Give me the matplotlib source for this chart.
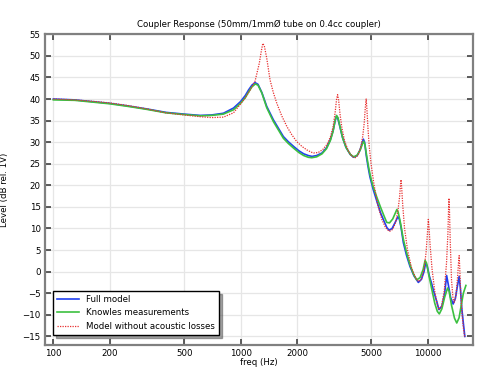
import matplotlib
matplotlib.use("Agg")
import matplotlib.pyplot as plt
from matplotlib.ticker import FixedLocator, FixedFormatter, NullLocator

# Full model (blue)
freq_full = [100, 130, 170, 200, 250, 316, 400, 500, 609, 700, 810, 917, 1000, 1060,
             1104, 1150, 1195, 1240, 1300, 1380, 1497, 1600, 1694, 1800, 1923, 2050,
             2175, 2300, 2409, 2550, 2725, 2880, 3020, 3120, 3200, 3250, 3300, 3380,
             3500, 3650, 3850, 4010, 4200, 4350, 4460, 4530, 4600, 4700, 4800, 4910,
             5100, 5350, 5600, 5830, 6050, 6220, 6450, 6700, 6920, 7050, 7200, 7410,
             7700, 8040, 8450, 8910, 9250, 9550, 9750, 9950, 10200, 10500, 10800,
             11170, 11480, 11900, 12300, 12620, 12900, 13250, 13670, 14050, 14400,
             14720, 14950, 15200, 15500, 15780]
level_full = [40.0, 39.8, 39.3, 39.0, 38.4, 37.7, 36.9, 36.5, 36.2, 36.3, 36.7, 37.9, 39.4, 40.8,
              42.1, 43.2, 43.8, 43.4, 41.5, 38.3, 35.2, 33.1, 31.3, 30.1, 29.0, 28.0,
              27.3, 26.9, 26.7, 26.9, 27.5, 28.7, 30.6, 32.6, 34.9, 36.0, 35.7, 33.9,
              31.2, 28.9, 27.2, 26.5, 26.9, 28.2, 29.8, 30.7, 30.0, 26.8, 24.3, 22.0,
              19.2, 16.3, 13.6, 11.8, 10.2, 9.6, 10.0, 11.4, 12.7, 12.2, 10.3, 6.7,
              3.8, 1.2, -1.0, -2.5, -1.8, 0.0, 2.1, 1.2, -1.0, -2.8, -4.8,
              -6.9, -8.8, -8.0, -5.2, -0.9, -3.2, -6.0, -7.5, -6.2, -3.4,
              -1.1, -4.0, -8.5, -12.0, -15.0]

# Knowles measurements (green)
freq_meas = [100, 130, 170, 200, 250, 316, 400, 500, 609, 700, 810, 917, 1000, 1060,
             1104, 1150, 1200, 1240, 1300, 1380, 1497, 1600, 1694, 1800, 1923, 2050,
             2175, 2300, 2400, 2550, 2725, 2880, 3020, 3120, 3200, 3260, 3320, 3400,
             3520, 3680, 3870, 4030, 4200, 4360, 4480, 4550, 4620, 4720, 4820, 4930,
             5100, 5350, 5600, 5830, 6040, 6250, 6500, 6700, 6840, 6950, 7150, 7400,
             7700, 8040, 8400, 8730, 9100, 9450, 9680, 9850, 10100, 10500, 10900,
             11250, 11530, 11900, 12300, 12760, 13000, 13400, 13900, 14290, 14700,
             15100, 15500, 15990]
level_meas = [39.8, 39.7, 39.2, 38.9, 38.3, 37.6, 36.8, 36.4, 36.1, 36.2, 36.5, 37.5, 39.0, 40.3,
              41.6, 42.8, 43.5, 43.2, 41.4, 38.0, 34.8, 32.7, 30.9, 29.7, 28.6, 27.6,
              26.9, 26.5, 26.4, 26.6, 27.3, 28.5, 30.4, 32.5, 35.0, 36.2, 35.6, 33.6,
              30.8, 28.6, 27.1, 26.6, 27.0, 28.2, 29.6, 30.2, 29.4, 26.8, 24.5, 22.3,
              19.8, 17.2, 14.9, 13.0, 11.4, 11.3, 12.2, 13.5, 14.4, 13.8, 11.3, 7.6,
              4.5, 1.6, -0.6, -1.9, -1.4, 0.5, 2.6, 2.0, -0.5, -4.0, -7.3,
              -9.2, -9.8, -8.6, -6.0, -3.8, -4.5, -7.8, -10.8, -11.9, -10.7,
              -7.8, -5.0, -3.2]

# Model without acoustic losses (red, dotted)
freq_lossless = [100, 130, 170, 200, 250, 316, 400, 500, 609, 700, 810, 917, 994, 1060,
                 1125, 1195, 1260, 1290, 1315, 1340, 1380, 1438, 1497, 1563, 1660, 1770,
                 1880, 2000, 2130, 2263, 2380, 2456, 2600, 2750, 2900, 3020, 3120, 3200,
                 3260, 3300, 3340, 3400, 3480, 3600, 3780, 3950, 4100, 4250, 4400, 4500,
                 4580, 4640, 4690, 4730, 4790, 4870, 4980, 5150, 5400, 5700, 5950, 6240,
                 6500, 6750, 6950, 7080, 7160, 7200, 7250, 7350, 7520, 7800, 8200, 8650,
                 8950, 9250, 9550, 9800, 9950, 10070, 10150, 10300, 10550, 10900, 11200,
                 11480, 11850, 12250, 12600, 12820, 12940, 12990, 13060, 13200, 13400,
                 13650, 13850, 14150, 14450, 14620, 14720, 14820, 15000, 15300, 15550,
                 15780]
level_lossless = [40.0, 39.8, 39.4, 39.1, 38.5, 37.7, 36.8, 36.3, 35.9, 35.7, 35.8, 36.8, 38.7, 40.3,
                  42.1, 44.1, 48.3, 51.0, 52.9, 52.3, 49.5, 44.4, 41.5, 39.0, 36.1, 33.6,
                  31.7, 30.1, 29.0, 28.2, 27.7, 27.5, 27.6, 28.3, 29.5, 31.2, 33.5, 36.8,
                  40.0, 41.0, 39.8, 36.5, 33.3, 30.2, 27.8, 26.7, 26.4, 27.0, 29.0, 31.5,
                  34.5, 38.0, 40.0, 37.8, 33.5, 29.0, 25.0, 20.5, 15.5, 12.0, 10.2, 9.3,
                  9.8, 11.5, 14.5, 17.5, 20.3, 21.3, 19.8, 15.5, 10.0, 5.0, 0.8, -1.6,
                  -2.3, -1.8, 0.5, 4.5, 8.5, 12.1, 10.5, 6.0, 0.5, -4.5, -7.3,
                  -8.8, -8.0, -4.5, 2.0, 9.0, 15.5, 17.0, 14.5, 6.5, -2.0,
                  -6.3, -7.1, -5.5, -1.0, 2.3, 3.7, 1.0, -5.0, -10.5, -13.5,
                  -15.3]

x_ticks = [100, 200, 500, 1000, 2000, 5000, 10000]
x_labels = ["100", "200", "500", "1000", "2000", "5000", "10000"]
y_ticks = list(range(-15, 56, 5))

plt.rcParams['font.family'] = 'DejaVu Sans'
fig = plt.figure(figsize=(4.98, 3.78), dpi=100)
ax = fig.add_axes([0.0904, 0.0873, 0.8594, 0.8220])

ax.plot(freq_full, level_full, color='#2040f0', lw=1.2, label="Full model")
ax.plot(freq_meas, level_meas, color='#3cc040', lw=1.2, label="Knowles measurements")
ax.plot(freq_lossless, level_lossless, color='#e83030', lw=0.9, ls=(0, (1, 1)),
        label="Model without acoustic losses")

ax.set_xscale('log')
ax.set_xlim(90.3, 17450)
ax.set_ylim(-17, 55)
ax.xaxis.set_major_locator(FixedLocator(x_ticks))
ax.xaxis.set_major_formatter(FixedFormatter(x_labels))
ax.xaxis.set_minor_locator(NullLocator())
ax.set_yticks(y_ticks)

ax.grid(True, color='#e6e6e6', lw=0.9)
ax.set_axisbelow(True)
ax.tick_params(direction='in', length=4, width=1.2, color='#404040', labelsize=6.2,
               top=True, right=True, pad=3)
for s in ax.spines.values():
    s.set_color('#808080')
    s.set_linewidth(1.6)

ax.set_title("Coupler Response (50mm/1mm\u00d8 tube on 0.4cc coupler)", fontsize=6.2, pad=5)
ax.set_xlabel("freq (Hz)", fontsize=6.2, labelpad=0)
ax.set_ylabel("Level (dB rel. 1V)", fontsize=6.2)
ax.yaxis.set_label_coords(-0.083, 0.5)

leg = ax.legend(loc='lower left', bbox_to_anchor=(0.019, 0.032), borderaxespad=0,
                fontsize=6.2, fancybox=False, shadow=True, edgecolor='black',
                framealpha=1, handlelength=2.5, labelspacing=0.5, borderpad=0.5,
                handletextpad=0.8)
leg.get_frame().set_linewidth(1.0)

fig.savefig("out.png", dpi=100)
